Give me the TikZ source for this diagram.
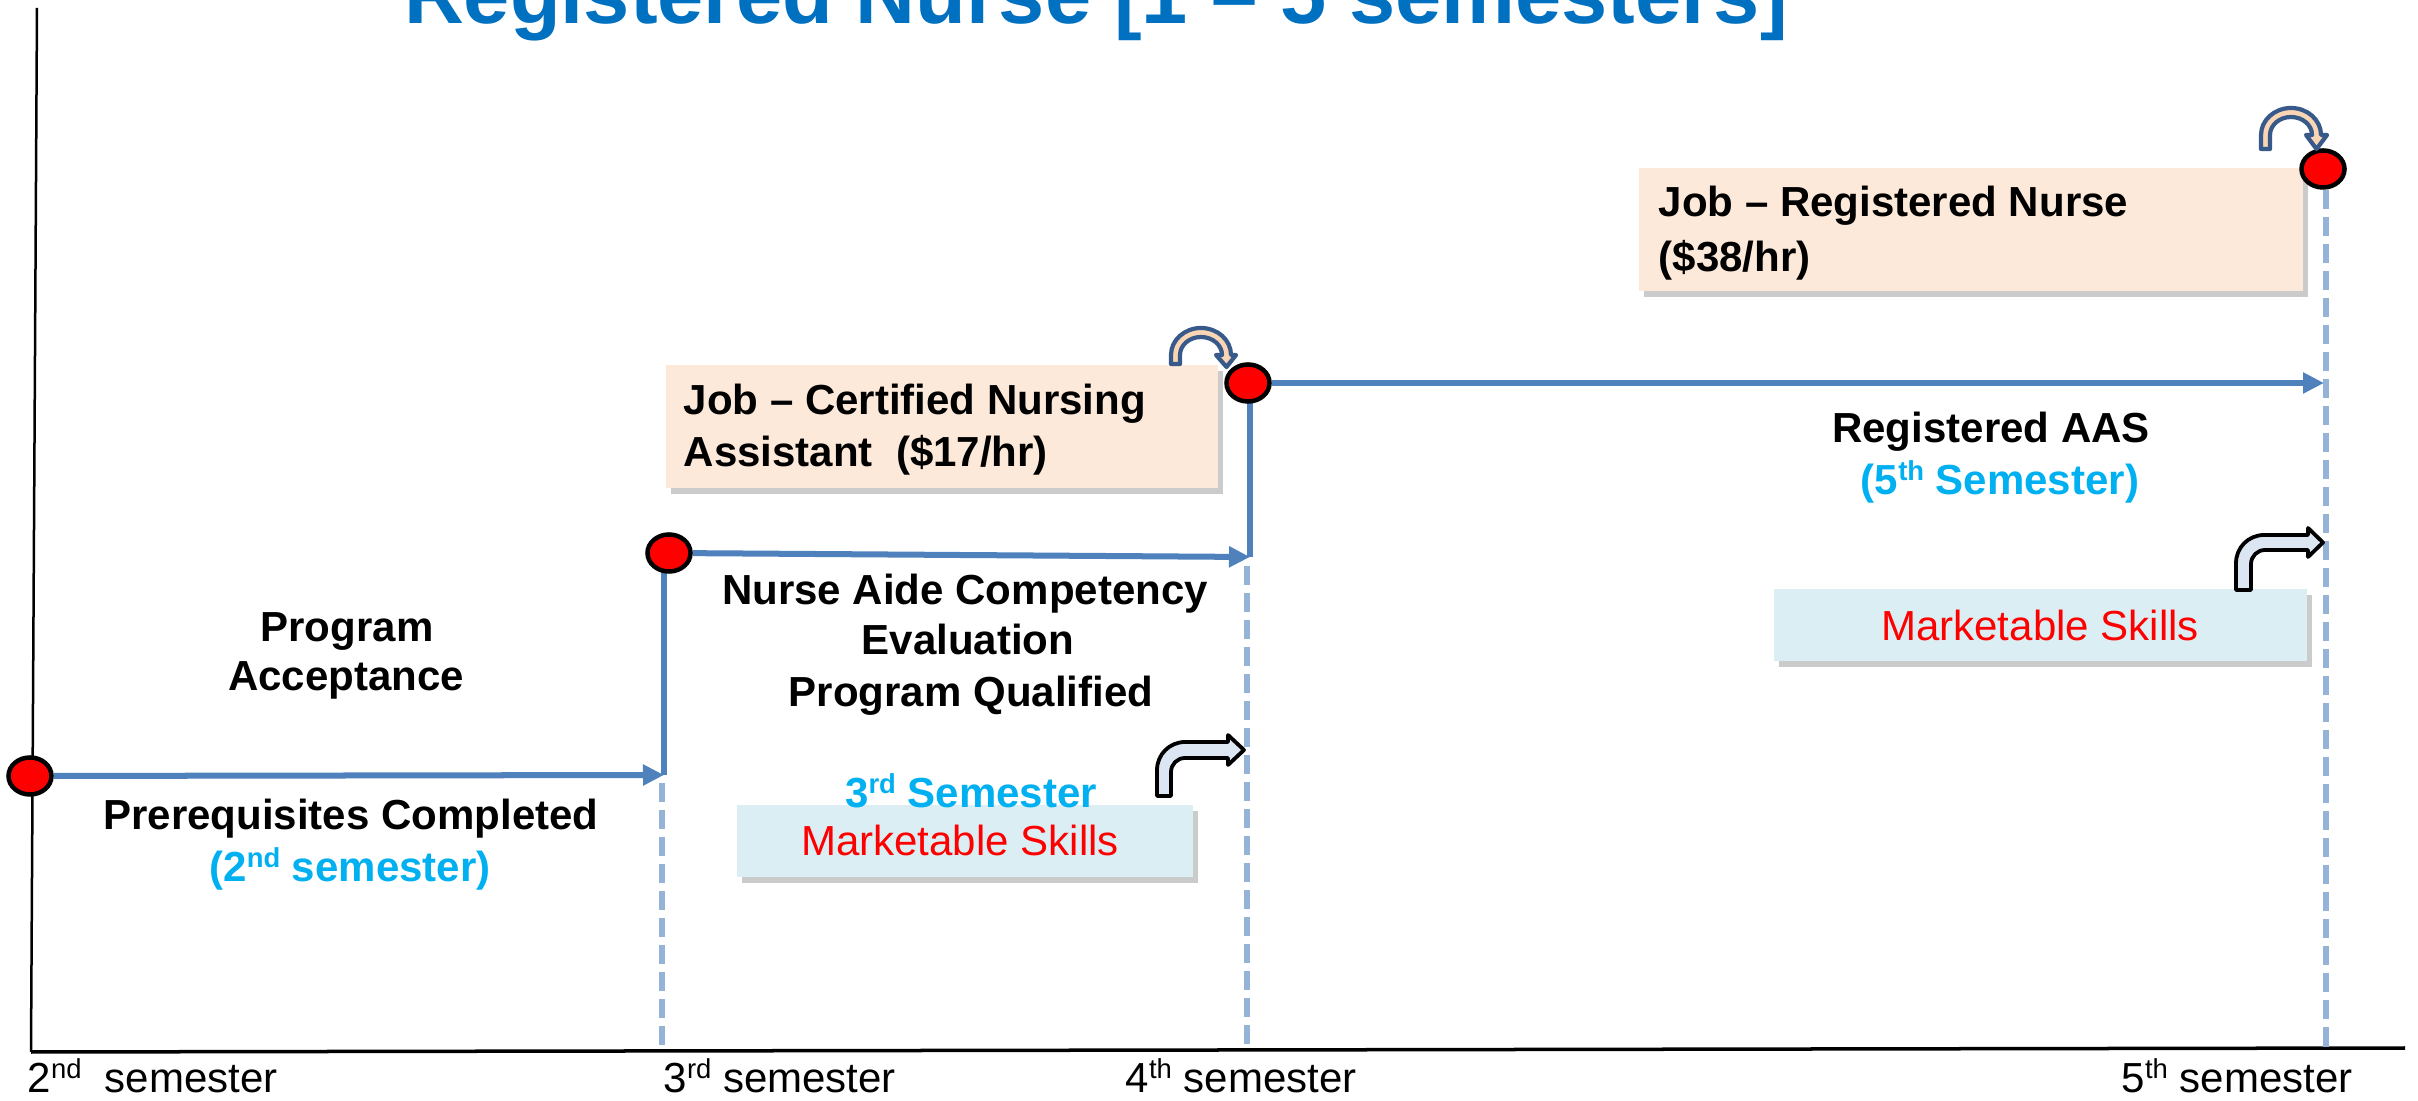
\documentclass[tikz,border=0pt]{standalone}
\usepackage{fontspec}
\setmainfont{Liberation Sans}
\usetikzlibrary{arrows.meta,shapes.geometric,shadows}
\definecolor{lineblue}{RGB}{79,129,189}
\definecolor{dashblue}{RGB}{149,179,215}
\definecolor{titleblue}{RGB}{0,112,192}
\definecolor{skyblue}{RGB}{0,176,240}
\definecolor{jobfill}{RGB}{253,233,217}
\definecolor{skillfill}{RGB}{219,238,244}
\definecolor{bentfill}{RGB}{220,230,242}
\definecolor{archblue}{RGB}{56,90,138}
\definecolor{archfill}{RGB}{249,213,180}
\newcommand\sups[1]{\raisebox{0.34em}{\fontsize{7.8}{8}\selectfont #1}}
\pgfdeclarelayer{back}
\pgfdeclarelayer{mid}
\pgfsetlayers{back,mid,main}
\begin{document}
\begin{tikzpicture}[x=0.01cm,y=-0.01cm,
  mainline/.style={draw=lineblue, line width=0.06cm},
  tipped/.style={-{Triangle[length=0.21cm,width=0.2cm]}},
  dashline/.style={draw=dashblue, line width=0.06cm, dash pattern=on 0.19cm off 0.08cm},
  dot/.style={ellipse, draw=black, fill=red, line width=0.045cm, minimum width=0.43cm, minimum height=0.37cm, inner sep=0pt},
  jobbox/.style={rectangle, fill=jobfill, inner sep=0pt, drop shadow={shadow xshift=0.05cm, shadow yshift=-0.06cm, fill=black!45, opacity=0.45}},
  skillbox/.style={rectangle, fill=skillfill, inner sep=0pt, drop shadow={shadow xshift=0.05cm, shadow yshift=-0.06cm, fill=black!45, opacity=0.45}},
  bentarrow/.style={draw=black, fill=bentfill, line width=0.038cm, line join=round},
  archarrow/.style={draw=archblue, fill=archfill, line width=0.042cm, line join=round},
  lbl/.style={font=\fontsize{11.95}{14}\selectfont\bfseries, inner sep=0pt, anchor=base},
  lblL/.style={lbl, anchor=base west},
  reg/.style={font=\fontsize{11.95}{14}\selectfont, inner sep=0pt, anchor=base},
  axlbl/.style={reg, anchor=base west}]
\useasboundingbox (0,0) rectangle (2418,1101);
\clip (0,0) rectangle (2418,1101);

% title
\node[font=\fontsize{23.6}{28}\selectfont\bfseries, text=titleblue, anchor=base, inner sep=0pt] (title) at (1096,24) {Registered Nurse [1 – 5 semesters]};

% milestone dots
\node[dot] (c1) at (30,776) {};
\node[dot] (c2) at (669,553) {};
\node[dot] (c3) at (1248,383) {};
\node[dot] (c4) at (2323,169) {};

% coordinates
\coordinate (ytop) at (37,8);
\coordinate (origin) at (31,1052);
\coordinate (xend) at (2405,1048);
\coordinate (j1) at (664,775);
\coordinate (j2) at (1250,557);
\coordinate (j3) at (2324,383);
\coordinate (d1) at (662,783);
\coordinate (d2) at (1247,566);
\coordinate (d3) at (2326,190);

\begin{pgfonlayer}{back}
  \fill[white] (0,0) rectangle (2418,1101);
  \draw[black, line width=0.025cm] (ytop) -- (origin);
  \draw[black, line width=0.035cm] (origin) -- (xend);
  \draw[dashline] (d1) -- (d1 |- origin);
  \draw[dashline] (d2) -- (d2 |- origin);
  \draw[dashline] (d3) -- (d3 |- xend);
  \node[jobbox, minimum width=5.52cm, minimum height=1.23cm] (job1box) at (942,426.5) {};
  \node[jobbox, minimum width=6.64cm, minimum height=1.23cm] (job2box) at (1971,229.5) {};
  \node[skillbox, minimum width=4.56cm, minimum height=0.72cm] (skill1box) at (965,841) {};
  \node[skillbox, minimum width=5.33cm, minimum height=0.72cm] (skill2box) at (2040.5,625) {};
\end{pgfonlayer}

\begin{pgfonlayer}{mid}
  \draw[mainline, tipped] (c1) -- (j1);
  \draw[mainline] (j1) -- (j1 |- c2);
  \draw[mainline, tipped] (c2) -- (j2);
  \draw[mainline] (j2) -- (j2 |- c3);
  \draw[mainline, tipped] (c3) -- (j3);
\end{pgfonlayer}

% curved arrows above the job dots
\draw[archarrow] (1171,364) -- (1171,355) .. controls (1171,340.1) and (1184.4,328) .. (1201,328) .. controls (1217.6,328) and (1231,340.1) .. (1231,355) -- (1236,355) -- (1226.5,367) -- (1216,355) -- (1222,355) .. controls (1222,345.1) and (1212.6,337) .. (1201,337) .. controls (1189.4,337) and (1180,345.1) .. (1180,355) -- (1180,364) -- cycle;
\draw[archarrow] (2261,149) -- (2261,135) .. controls (2261,120.1) and (2274.4,108) .. (2291,108) .. controls (2307.6,108) and (2321,120.1) .. (2321,135) -- (2327,135) -- (2316.5,149) -- (2306,135) -- (2312,135) .. controls (2312,125.1) and (2302.6,117) .. (2291,117) .. controls (2279.4,117) and (2270,125.1) .. (2270,135) -- (2270,149) -- cycle;

% bent arrows
\draw[bentarrow] (1157,796) -- (1157,770) .. controls (1157,754.5) and (1169.5,742) .. (1185,742) -- (1228,742) -- (1228,735) -- (1244,750) -- (1228,765) -- (1228,758) -- (1185,758) .. controls (1177.3,758) and (1171,764.3) .. (1171,772) -- (1171,796) -- cycle;
\draw[bentarrow] (2236,590) -- (2236,563) .. controls (2236,547.5) and (2248.5,535) .. (2264,535) -- (2308,535) -- (2308,528) -- (2323,542.5) -- (2308,557) -- (2308,550) -- (2265,550) .. controls (2257.3,550) and (2251,556.3) .. (2251,564) -- (2251,590) -- cycle;

% labels
\node[lbl] (prog1) at (347,642) {Program};
\node[lbl] (prog2) at (346,691) {Acceptance};
\node[lbl] (prereq) at (351,830) {Prerequisites Completed};
\node[lbl, text=skyblue] (sem2) at (350,882) {(2\sups{nd} semester)};
\node[lbl] (nace1) at (965,605) {Nurse Aide Competency};
\node[lbl] (nace2) at (968,655) {Evaluation};
\node[lbl] (nace3) at (971,707) {Program Qualified};
\node[lbl, text=skyblue] (sem3) at (971,808) {3\sups{rd} Semester};
\node[reg, text=red] (mkt1) at (960,856) {Marketable Skills};
\node[lbl] (aas) at (1991,443) {Registered AAS};
\node[lbl, text=skyblue] (sem5) at (2000,495) {(5\sups{th} Semester)};
\node[reg, text=red] (mkt2) at (2040,641) {Marketable Skills};
\node[lblL] (job1a) at (683,415) {Job – Certified Nursing};
\node[lblL] (job1b) at (683,467) {Assistant\ \ (\$17/hr)};
\node[lblL] (job2a) at (1658,217) {Job – Registered Nurse};
\node[lblL] (job2b) at (1658,272) {(\$38/hr)};

% axis labels
\node[axlbl] (ax2) at (27,1093) {2\sups{nd}\ \ semester};
\node[axlbl] (ax3) at (663,1093) {3\sups{rd} semester};
\node[axlbl] (ax4) at (1125,1093) {4\sups{th} semester};
\node[axlbl] (ax5) at (2121,1093) {5\sups{th} semester};
\end{tikzpicture}
\end{document}
